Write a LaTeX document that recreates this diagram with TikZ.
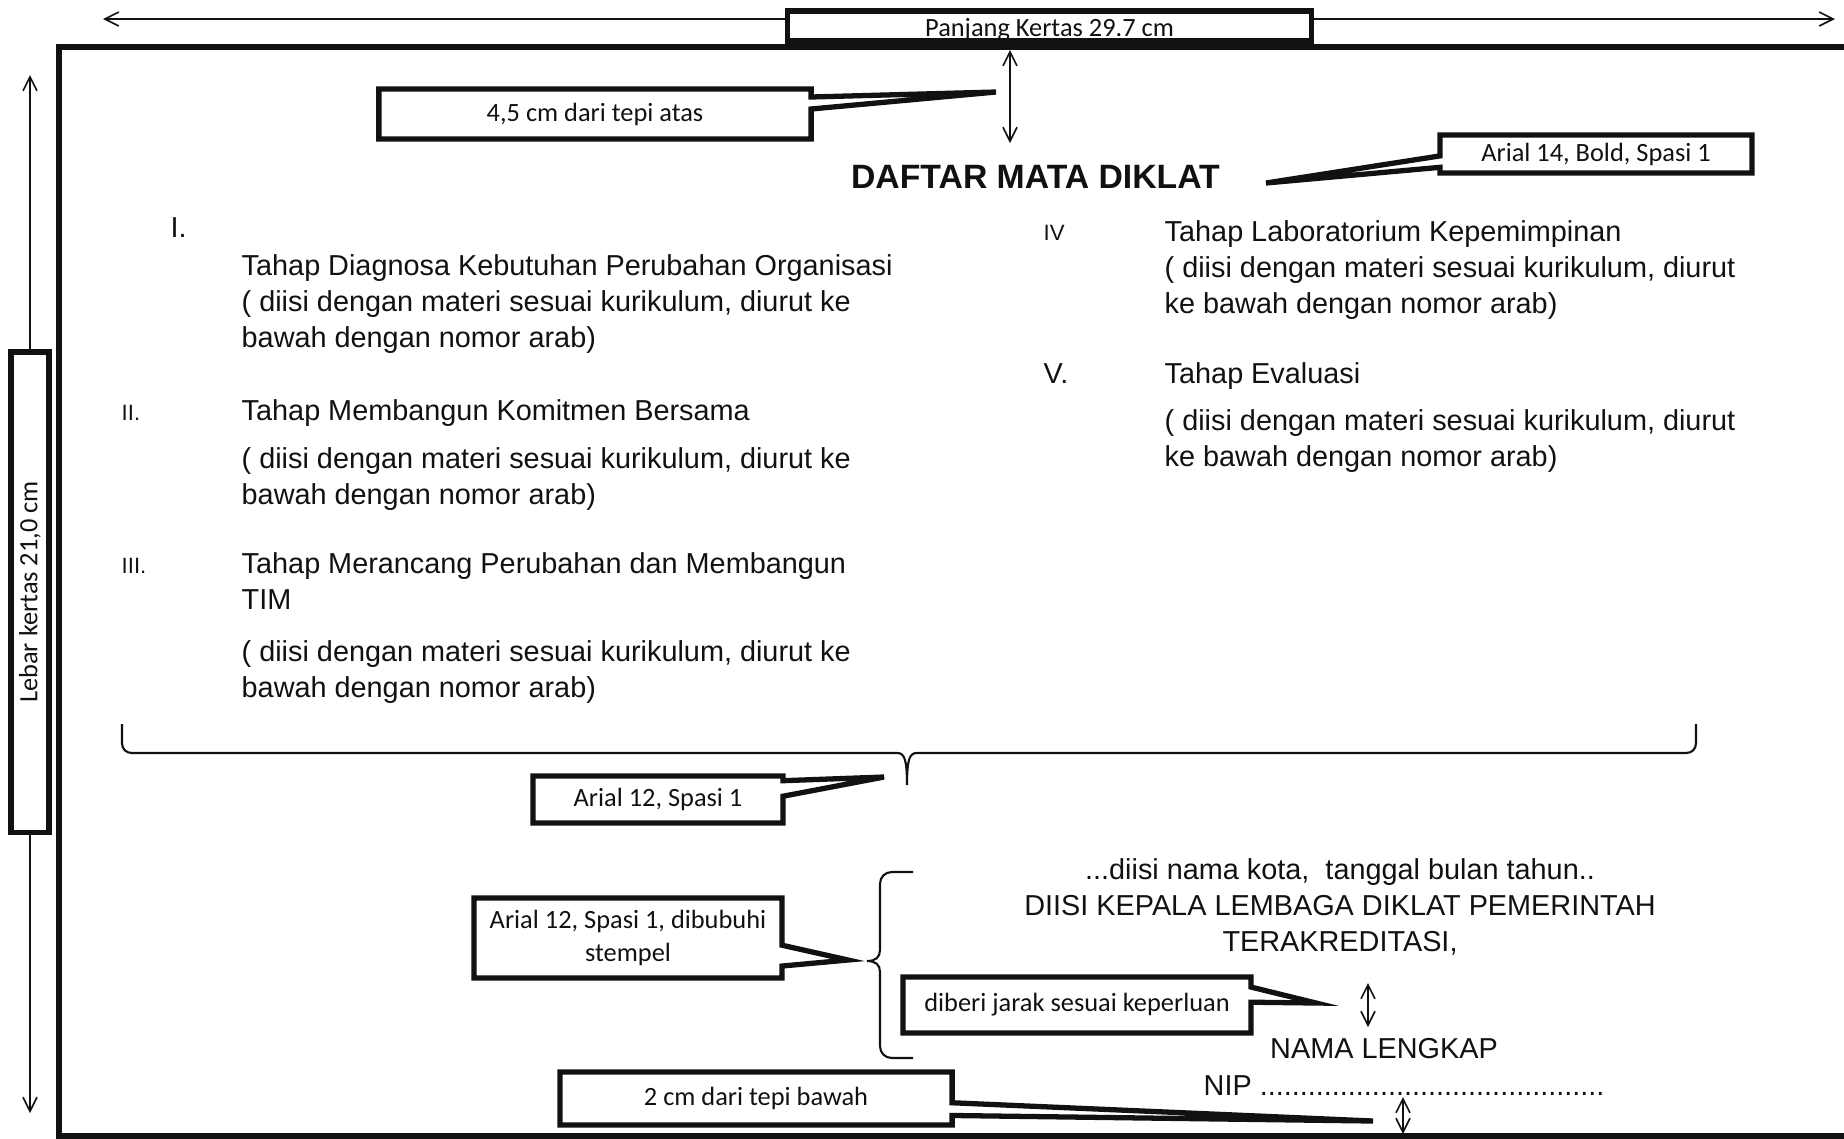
\documentclass[tikz,border=0pt]{standalone}
\usepackage{fontspec}
\setmainfont{Liberation Sans}
\newfontfamily\calibri{Carlito}
\usetikzlibrary{positioning,arrows.meta,calc}
\definecolor{inkblack}{HTML}{111111}
\tikzset{
  frameline/.style={line width=1.8pt, inkblack},
  dimarr/.style={
    {Straight Barb[length=4pt,width=4pt]}-{Straight Barb[length=4pt,width=4pt]},
    line width=0.45pt, inkblack
  },
  cbox/.style={
    rectangle, inner sep=0pt, outer sep=0pt, align=center,
    font=\calibri\fontsize{7.5pt}{9.4pt}\selectfont, text=inkblack
  },
  boxed/.style={draw=inkblack, fill=white, line width=1.5pt},
  callline/.style={draw=inkblack, line width=1.5pt},
  bodytxt/.style={
    anchor=base west, align=left, inner sep=0pt,
    font=\fontsize{8.2pt}{10.2pt}\selectfont, text=inkblack
  },
  numsmall/.style={
    anchor=base west, inner sep=0pt,
    font=\fontsize{6.3pt}{7pt}\selectfont, text=inkblack
  },
  numbig/.style={
    anchor=base west, inner sep=0pt,
    font=\fontsize{8.2pt}{10pt}\selectfont, text=inkblack
  },
  sigtxt/.style={
    anchor=base, align=center, inner sep=0pt,
    font=\fontsize{8.2pt}{10.2pt}\selectfont, text=inkblack
  },
  bracel/.style={line width=0.6pt, inkblack}
}

\begin{document}
\begin{tikzpicture}[x=0.01cm, y=-0.01cm]
\useasboundingbox (0,0) rectangle (1844,1138);
\clip (0,0) rectangle (1844,1138);

% marco
\draw[frameline] (1900,47) -- (59,47) -- (59,1136) -- (1900,1136);

% cotas
\coordinate (pgL) at (103,19);
\coordinate (pgR) at (1835,19);
\coordinate (lbT) at (30,75);
\coordinate (lbB) at (30,1113);
\coordinate (mtT) at (1010,50);
\coordinate (mtB) at (1010,143);
\coordinate (jrT) at (1368,983);
\coordinate (jrB) at (1368,1027);
\coordinate (mbT) at (1403,1097);
\coordinate (mbB) at (1403,1134);
\draw[dimarr] (pgL) -- (pgR);
\draw[dimarr] (lbT) -- (lbB);
\draw[dimarr] (mtT) -- (mtB);
\draw[dimarr] (jrT) -- (jrB);
\draw[dimarr] (mbT) -- (mbB);

% cajas
\node[cbox, boxed, minimum width=5.23cm, minimum height=0.30cm] (pk) at (1049.5,26) {};
\node[cbox, anchor=base] (pktxt) at (1049.5,36) {Panjang Kertas 29.7 cm};
\node[cbox, boxed, rotate=90, minimum width=4.80cm, minimum height=0.38cm] (lk) at (30,592) {Lebar kertas 21,0 cm};

% llamadas
\node[cbox, minimum width=4.32cm, minimum height=0.50cm] (atas) at (595,114) {4,5 cm dari tepi atas};
\coordinate (atasTip) at (996,92);
\draw[callline] (atas.north west) -- (atas.north east)
  -- ($(atas.north east)!0.16!(atas.south east)$) -- (atasTip)
  -- ($(atas.north east)!0.40!(atas.south east)$) -- (atas.south east)
  -- (atas.south west) -- cycle;

\node[cbox, minimum width=3.12cm, minimum height=0.38cm] (a14) at (1596,154) {Arial 14, Bold, Spasi 1};
\coordinate (a14Tip) at (1266,183);
\draw[callline] (a14.north east) -- (a14.south east) -- (a14.south west)
  -- ($(a14.north west)!0.85!(a14.south west)$) -- (a14Tip)
  -- ($(a14.north west)!0.55!(a14.south west)$) -- (a14.north west) -- cycle;

\node[cbox, minimum width=2.50cm, minimum height=0.47cm] (a12) at (658,799.5) {Arial 12, Spasi 1};
\coordinate (a12Tip) at (884,777);
\draw[callline] (a12.north west) -- (a12.north east)
  -- ($(a12.north east)!0.10!(a12.south east)$) -- (a12Tip)
  -- ($(a12.north east)!0.43!(a12.south east)$) -- (a12.south east)
  -- (a12.south west) -- cycle;

\node[cbox, minimum width=3.08cm, minimum height=0.80cm] (stp) at (628,938) {Arial 12, Spasi 1, dibubuhi\\stempel};
\coordinate (stpTip) at (848,960);
\draw[callline] (stp.north west) -- (stp.north east)
  -- ($(stp.north east)!0.59!(stp.south east)$) -- (stpTip)
  -- ($(stp.north east)!0.85!(stp.south east)$) -- (stp.south east)
  -- (stp.south west) -- cycle;

\node[cbox, minimum width=3.48cm, minimum height=0.56cm] (jarak) at (1077,1005) {diberi jarak sesuai keperluan};
\coordinate (jarakTip) at (1316,1003);
\draw[callline] (jarak.north west) -- (jarak.north east)
  -- ($(jarak.north east)!0.18!(jarak.south east)$) -- (jarakTip)
  -- ($(jarak.north east)!0.45!(jarak.south east)$) -- (jarak.south east)
  -- (jarak.south west) -- cycle;

\node[cbox, minimum width=3.92cm, minimum height=0.53cm] (bawah) at (756,1098.5) {2 cm dari tepi bawah};
\coordinate (bawahTip) at (1373,1121);
\draw[callline] (bawah.north west) -- (bawah.north east)
  -- ($(bawah.north east)!0.58!(bawah.south east)$) -- (bawahTip)
  -- ($(bawah.north east)!0.82!(bawah.south east)$) -- (bawah.south east)
  -- (bawah.south west) -- cycle;

% judul
\node[anchor=base, inner sep=0pt, text=inkblack,
  font=\bfseries\fontsize{9.6pt}{11pt}\selectfont] (judul) at (1035.5,188) {DAFTAR MATA DIKLAT};

% tahap (base = baris terakhir)
\node[numbig] (n1) at (170,237) {I.};
\node[bodytxt] (t1) at (241,347) {Tahap Diagnosa Kebutuhan Perubahan Organisasi\\( diisi dengan materi sesuai kurikulum, diurut ke\\bawah dengan nomor arab)};
\node[numsmall] (n2) at (121,420) {II.};
\node[bodytxt] (t2) at (241,420) {Tahap Membangun Komitmen Bersama};
\node[bodytxt] (d2) at (241,504) {( diisi dengan materi sesuai kurikulum, diurut ke\\bawah dengan nomor arab)};
\node[numsmall] (n3) at (121,573) {III.};
\node[bodytxt] (t3) at (241,609) {Tahap Merancang Perubahan dan Membangun\\TIM};
\node[bodytxt] (d3) at (241,697) {( diisi dengan materi sesuai kurikulum, diurut ke\\bawah dengan nomor arab)};
\node[numsmall] (n4) at (1043,240) {IV};
\node[bodytxt] (t4) at (1164,313) {Tahap Laboratorium Kepemimpinan\\( diisi dengan materi sesuai kurikulum, diurut\\ke bawah dengan nomor arab)};
\node[numbig] (n5) at (1043,383) {V.};
\node[bodytxt] (t5) at (1164,383) {Tahap Evaluasi};
\node[bodytxt] (d5) at (1164,466) {( diisi dengan materi sesuai kurikulum, diurut\\ke bawah dengan nomor arab)};

% kurung
\draw[bracel] (122,724) -- (122,743) .. controls (122,749) and (126,753) .. (132,753)
  -- (897,753) .. controls (904,753) and (907,758) .. (907,785)
  .. controls (907,758) and (910,753) .. (917,753)
  -- (1686,753) .. controls (1692,753) and (1696,749) .. (1696,743) -- (1696,724);
\draw[bracel] (913,872) -- (892,872) .. controls (885,872) and (880,877) .. (880,884)
  -- (880,950) .. controls (880,957) and (876,961) .. (867,961)
  .. controls (876,961) and (880,965) .. (880,972)
  -- (880,1046) .. controls (880,1053) and (885,1058) .. (892,1058) -- (913,1058);

% tanda tangan
\node[sigtxt] (ttd) at (1340,951) {...diisi nama kota,~ tanggal bulan tahun..\\DIISI KEPALA LEMBAGA DIKLAT PEMERINTAH\\TERAKREDITASI,};
\node[sigtxt] (nama) at (1384,1058) {NAMA LENGKAP};
\node[bodytxt] (nip) at (1203,1095) {NIP ...........................................};
\end{tikzpicture}
\end{document}
